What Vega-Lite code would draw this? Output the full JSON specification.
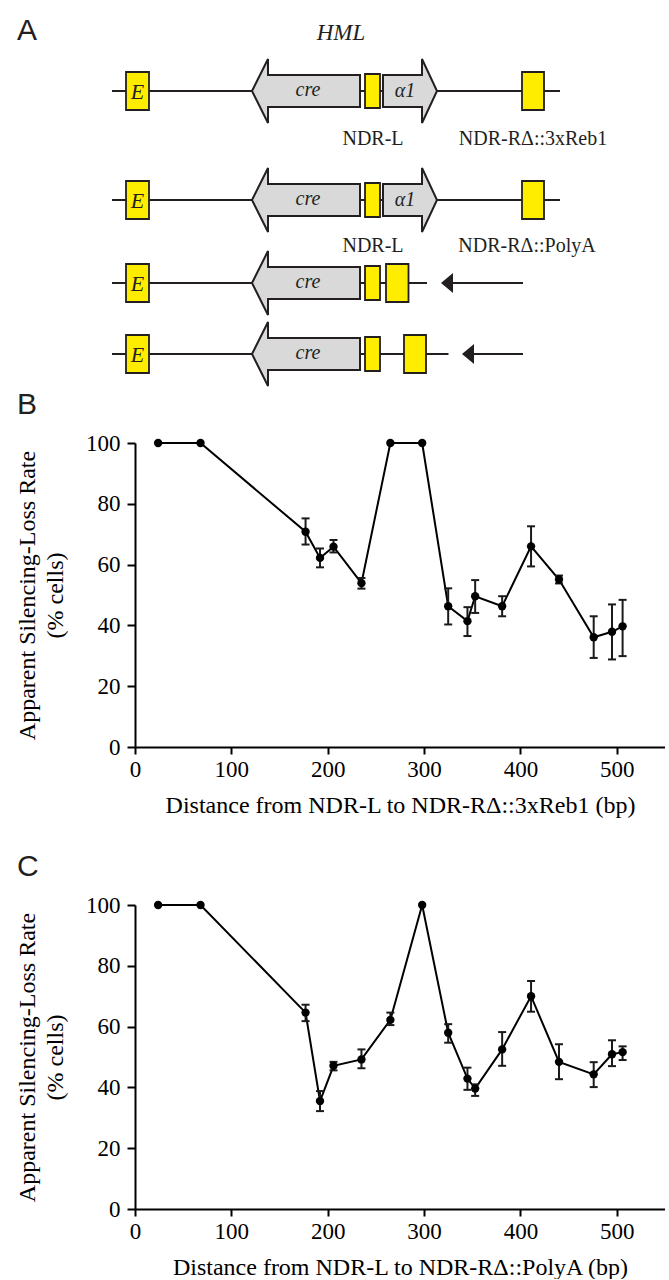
{
  "$schema": "https://vega.github.io/schema/vega-lite/v6.json",
  "padding": {"left": 15, "top": 0, "right": 0, "bottom": 0},
  "spacing": 0,
  "resolve": {"scale": {"x": "independent", "y": "independent"}},
  "config": {
    "view": {"stroke": null},
    "axis": {
      "domainColor": "#000", "domainWidth": 2, "tickColor": "#000", "tickWidth": 2,
      "labelColor": "#000", "titleColor": "#000",
      "labelFont": "Liberation Serif", "titleFont": "Liberation Serif",
      "labelFontSize": 23, "titleFontSize": 24, "titleFontWeight": "normal",
      "grid": false, "labelFlush": false
    },
    "axisX": {"tickSize": 7, "labelPadding": 4, "titlePadding": 12},
    "axisY": {"tickSize": 8, "labelPadding": 7, "titlePadding": 18, "titleLineHeight": 28}
  },
  "datasets": {
    "B": [
      {"pos": 24, "val": 100, "lo": null, "hi": null},
      {"pos": 68, "val": 100, "lo": null, "hi": null},
      {"pos": 177, "val": 70.8, "lo": 66.6, "hi": 75.2},
      {"pos": 192, "val": 62.2, "lo": 59.1, "hi": 65.3},
      {"pos": 206, "val": 65.9, "lo": 64.0, "hi": 68.1},
      {"pos": 235, "val": 53.9, "lo": 52.1, "hi": 55.6},
      {"pos": 265, "val": 100, "lo": null, "hi": null},
      {"pos": 298, "val": 100, "lo": null, "hi": null},
      {"pos": 325, "val": 46.3, "lo": 40.3, "hi": 52.2},
      {"pos": 345, "val": 41.4, "lo": 36.5, "hi": 46.0},
      {"pos": 353, "val": 49.6, "lo": 44.1, "hi": 54.9},
      {"pos": 381, "val": 46.3, "lo": 43.0, "hi": 49.6},
      {"pos": 411, "val": 66.0, "lo": 59.4, "hi": 72.6},
      {"pos": 440, "val": 55.1, "lo": 53.8, "hi": 56.4},
      {"pos": 476, "val": 36.1, "lo": 29.3, "hi": 43.0},
      {"pos": 495, "val": 37.9, "lo": 28.8, "hi": 46.9},
      {"pos": 506, "val": 39.7, "lo": 29.9, "hi": 48.4}
    ],
    "C": [
      {"pos": 24, "val": 100, "lo": null, "hi": null},
      {"pos": 68, "val": 100, "lo": null, "hi": null},
      {"pos": 177, "val": 64.6, "lo": 61.8, "hi": 67.2},
      {"pos": 192, "val": 35.5, "lo": 32.2, "hi": 38.8},
      {"pos": 206, "val": 47.1, "lo": 45.6, "hi": 48.4},
      {"pos": 235, "val": 49.2, "lo": 46.3, "hi": 52.5},
      {"pos": 265, "val": 62.2, "lo": 60.5, "hi": 64.6},
      {"pos": 298, "val": 100, "lo": null, "hi": null},
      {"pos": 325, "val": 58.0, "lo": 54.7, "hi": 60.8},
      {"pos": 345, "val": 42.9, "lo": 39.2, "hi": 46.5},
      {"pos": 353, "val": 39.6, "lo": 37.2, "hi": 41.0},
      {"pos": 381, "val": 52.5, "lo": 47.1, "hi": 58.2},
      {"pos": 411, "val": 70.0, "lo": 64.9, "hi": 75.0},
      {"pos": 440, "val": 48.4, "lo": 42.7, "hi": 54.2},
      {"pos": 476, "val": 44.3, "lo": 40.1, "hi": 48.3},
      {"pos": 495, "val": 50.9, "lo": 47.0, "hi": 55.5},
      {"pos": 506, "val": 51.6, "lo": 49.0, "hi": 53.5}
    ]
  },
  "vconcat": [
    {
      "width": 530,
      "height": 390,
      "encoding": {
        "x": {"field": "x", "type": "quantitative", "scale": {"domain": [135, 665], "nice": false, "zero": false}, "axis": null},
        "y": {"field": "y", "type": "quantitative", "scale": {"domain": [0, 390], "nice": false, "zero": false, "reverse": true}, "axis": null}
      },
      "layer": [
        {
          "data": {"values": [
            {"x": 112, "x2": 560, "y": 91},
            {"x": 112, "x2": 560, "y": 200},
            {"x": 112, "x2": 427, "y": 283},
            {"x": 112, "x2": 448.5, "y": 354},
            {"x": 453, "x2": 523, "y": 283},
            {"x": 474, "x2": 523, "y": 354}
          ]},
          "mark": {"type": "rule", "strokeWidth": 2, "color": "#231f20"},
          "encoding": {"x2": {"field": "x2"}}
        },
        {
          "data": {"values": [
            {"x": 126, "x2": 149, "y": 72, "y2": 110},
            {"x": 365, "x2": 380, "y": 74, "y2": 108},
            {"x": 522, "x2": 544, "y": 72, "y2": 110},
            {"x": 126, "x2": 149, "y": 181, "y2": 219},
            {"x": 365, "x2": 380, "y": 183, "y2": 217},
            {"x": 522, "x2": 544, "y": 181, "y2": 219},
            {"x": 126, "x2": 149, "y": 264, "y2": 302},
            {"x": 365, "x2": 380, "y": 266, "y2": 300},
            {"x": 386, "x2": 408.5, "y": 264, "y2": 302},
            {"x": 126, "x2": 149, "y": 335, "y2": 373},
            {"x": 365, "x2": 380, "y": 337, "y2": 371},
            {"x": 404, "x2": 426, "y": 335, "y2": 373}
          ]},
          "mark": {"type": "rect", "fill": "#ffed00", "stroke": "#231f20", "strokeWidth": 1.8},
          "encoding": {"x2": {"field": "x2"}, "y2": {"field": "y2"}}
        },
        {
          "data": {"values": [
            {"x": 306, "y": 91}, {"x": 306, "y": 200}, {"x": 306, "y": 283}, {"x": 306, "y": 354}
          ]},
          "mark": {"type": "point", "shape": "M -54 0 L -38 -32 L -38 -16 L 54 -16 L 54 16 L -38 16 L -38 32 Z", "size": 4, "filled": true, "fill": "#d9d9d9", "stroke": "#231f20", "strokeWidth": 2, "strokeJoin": "miter", "opacity": 1}
        },
        {
          "data": {"values": [
            {"x": 410, "y": 91}, {"x": 410, "y": 200}
          ]},
          "mark": {"type": "point", "shape": "M -27 -16 L 12 -16 L 12 -32 L 27 0 L 12 32 L 12 16 L -27 16 Z", "size": 4, "filled": true, "fill": "#d9d9d9", "stroke": "#231f20", "strokeWidth": 2, "strokeJoin": "miter", "opacity": 1}
        },
        {
          "data": {"values": [
            {"x": 447, "y": 283}, {"x": 468, "y": 354}
          ]},
          "mark": {"type": "point", "shape": "M -6 0 L 6 -10 L 6 10 Z", "size": 4, "filled": true, "fill": "#231f20", "strokeWidth": 0, "opacity": 1}
        },
        {
          "data": {"values": [
            {"x": 137.5, "y": 92, "t": "E"}, {"x": 137.5, "y": 201, "t": "E"}, {"x": 137.5, "y": 284, "t": "E"}, {"x": 137.5, "y": 355, "t": "E"}
          ]},
          "mark": {"type": "text", "font": "Liberation Serif", "fontStyle": "italic", "fontSize": 22, "color": "#231f20", "align": "center", "baseline": "middle"},
          "encoding": {"text": {"field": "t"}}
        },
        {
          "data": {"values": [
            {"x": 308, "y": 90, "t": "cre"}, {"x": 308, "y": 199, "t": "cre"}, {"x": 308, "y": 282, "t": "cre"}, {"x": 308, "y": 353, "t": "cre"},
            {"x": 405, "y": 91, "t": "α1"}, {"x": 405, "y": 200, "t": "α1"}
          ]},
          "mark": {"type": "text", "font": "Liberation Serif", "fontStyle": "italic", "fontSize": 20, "color": "#231f20", "align": "center", "baseline": "middle"},
          "encoding": {"text": {"field": "t"}}
        },
        {
          "data": {"values": [{"x": 341, "y": 33, "t": "HML"}]},
          "mark": {"type": "text", "font": "Liberation Serif", "fontStyle": "italic", "fontSize": 23, "color": "#231f20", "align": "center", "baseline": "middle"},
          "encoding": {"text": {"field": "t"}}
        },
        {
          "data": {"values": [
            {"x": 373, "y": 139, "t": "NDR-L"}, {"x": 533, "y": 139, "t": "NDR-RΔ::3xReb1"},
            {"x": 373, "y": 246, "t": "NDR-L"}, {"x": 527, "y": 246, "t": "NDR-RΔ::PolyA"}
          ]},
          "mark": {"type": "text", "font": "Liberation Serif", "fontSize": 20, "color": "#231f20", "align": "center", "baseline": "middle"},
          "encoding": {"text": {"field": "t"}}
        },
        {
          "data": {"values": [{"x": 17, "y": 31, "t": "A"}]},
          "mark": {"type": "text", "font": "Liberation Sans", "fontSize": 30, "color": "#231f20", "align": "left", "baseline": "middle"},
          "encoding": {"text": {"field": "t"}}
        }
      ]
    },
    {
      "spacing": 35,
      "resolve": {"scale": {"x": "independent", "y": "independent"}},
      "vconcat": [
        {
          "width": 530,
          "height": 304,
          "data": {"name": "B"},
          "encoding": {
            "x": {"field": "pos", "type": "quantitative", "scale": {"domain": [0, 550], "nice": false, "zero": false}, "axis": {"values": [0, 100, 200, 300, 400, 500], "title": "Distance from NDR-L to NDR-RΔ::3xReb1 (bp)"}},
            "y": {"field": "val", "type": "quantitative", "scale": {"domain": [0, 100], "nice": false}, "axis": {"values": [0, 20, 40, 60, 80, 100], "title": ["Apparent Silencing-Loss Rate", "(% cells)"]}}
          },
          "layer": [
            {"mark": {"type": "line", "color": "#000", "strokeWidth": 2}},
            {"mark": {"type": "rule", "color": "#1a1a1a", "strokeWidth": 2}, "encoding": {"y": {"field": "lo", "type": "quantitative"}, "y2": {"field": "hi"}}},
            {"mark": {"type": "point", "shape": "stroke", "size": 64, "filled": false, "color": "#1a1a1a", "strokeWidth": 2, "opacity": 1}, "encoding": {"y": {"field": "lo", "type": "quantitative"}}},
            {"mark": {"type": "point", "shape": "stroke", "size": 64, "filled": false, "color": "#1a1a1a", "strokeWidth": 2, "opacity": 1}, "encoding": {"y": {"field": "hi", "type": "quantitative"}}},
            {"mark": {"type": "circle", "size": 70, "color": "#000", "opacity": 1}},
            {
              "data": {"values": [{"pos": -122.5, "val": 112.4, "t": "B"}]},
              "mark": {"type": "text", "font": "Liberation Sans", "fontSize": 30, "color": "#231f20", "align": "left", "baseline": "middle"},
              "encoding": {"text": {"field": "t"}}
            }
          ]
        },
        {
          "width": 530,
          "height": 304,
          "data": {"name": "C"},
          "encoding": {
            "x": {"field": "pos", "type": "quantitative", "scale": {"domain": [0, 550], "nice": false, "zero": false}, "axis": {"values": [0, 100, 200, 300, 400, 500], "title": "Distance from NDR-L to NDR-RΔ::PolyA (bp)"}},
            "y": {"field": "val", "type": "quantitative", "scale": {"domain": [0, 100], "nice": false}, "axis": {"values": [0, 20, 40, 60, 80, 100], "title": ["Apparent Silencing-Loss Rate", "(% cells)"]}}
          },
          "layer": [
            {"mark": {"type": "line", "color": "#000", "strokeWidth": 2}},
            {"mark": {"type": "rule", "color": "#1a1a1a", "strokeWidth": 2}, "encoding": {"y": {"field": "lo", "type": "quantitative"}, "y2": {"field": "hi"}}},
            {"mark": {"type": "point", "shape": "stroke", "size": 64, "filled": false, "color": "#1a1a1a", "strokeWidth": 2, "opacity": 1}, "encoding": {"y": {"field": "lo", "type": "quantitative"}}},
            {"mark": {"type": "point", "shape": "stroke", "size": 64, "filled": false, "color": "#1a1a1a", "strokeWidth": 2, "opacity": 1}, "encoding": {"y": {"field": "hi", "type": "quantitative"}}},
            {"mark": {"type": "circle", "size": 70, "color": "#000", "opacity": 1}},
            {
              "data": {"values": [{"pos": -122.5, "val": 112.4, "t": "C"}]},
              "mark": {"type": "text", "font": "Liberation Sans", "fontSize": 30, "color": "#231f20", "align": "left", "baseline": "middle"},
              "encoding": {"text": {"field": "t"}}
            }
          ]
        }
      ]
    }
  ]
}
